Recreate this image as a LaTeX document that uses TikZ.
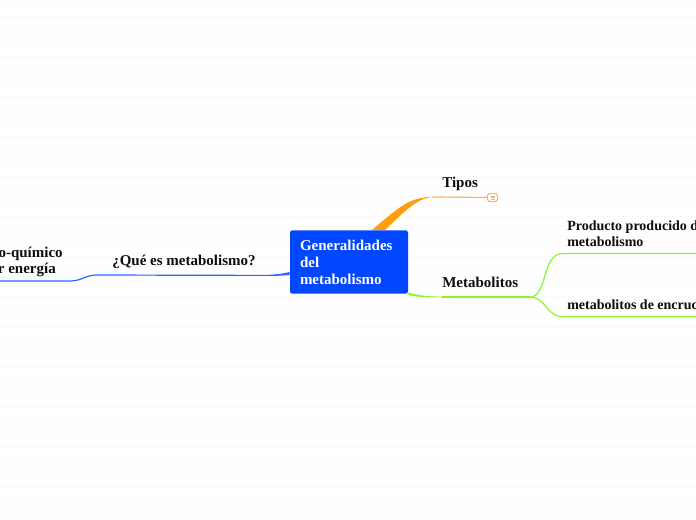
\documentclass[tikz,border=0pt]{standalone}
\usepackage{fontspec}
\setmainfont{Liberation Serif}
\usetikzlibrary{calc}
\definecolor{rootblue}{HTML}{0047FF}
\definecolor{linkblue}{HTML}{2A66FF}
\definecolor{linkorange}{HTML}{FFB45A}
\definecolor{thickorange}{HTML}{FF9D0A}
\definecolor{linkgreen}{HTML}{8FF52A}
\definecolor{stripe}{HTML}{FAFAFA}
\tikzset{
  x=0.75pt,y=-0.75pt,
  topic/.style={font=\bfseries\fontsize{11.25pt}{12.5pt}\selectfont,text=black!95,inner sep=0pt,align=left},
  subtopic/.style={topic,font=\bfseries\fontsize{10.5pt}{12.2pt}\selectfont},
  rootnode/.style={fill=rootblue,rounded corners=1.8pt,inner sep=0pt,minimum width=88.5pt,minimum height=47.6pt,
    font=\bfseries\fontsize{11.25pt}{12.75pt}\selectfont,text=white,align=left},
  thin link/.style={line width=0.9pt},
  icon/.style={draw=linkorange,fill=white,rounded corners=1.4pt,line width=0.7pt,minimum width=7.5pt,minimum height=6pt,inner sep=0pt}
}
\begin{document}
\begin{tikzpicture}
\useasboundingbox (0,0) rectangle (696,520);
\clip (0,0) rectangle (696,520);
\fill[white] (0,0) rectangle (696,520);
\foreach \y in {7,17,...,517} \draw[stripe,line width=0.75pt] (0,\y) -- (696,\y);

% root
\node[rootnode] (root) at (349,262) {\begin{minipage}{73.5pt}Generalidades\\del\\metabolismo\end{minipage}};

% topics
\node[topic,anchor=base west] (tipos) at (442,188) {Tipos};
\node[topic,anchor=base west] (metab) at (442,287) {Metabolitos};
\node[topic,anchor=base west] (que) at (112,266) {¿Qué es metabolismo?};
\node[topic,anchor=base east,align=right] (def) at (63,274) {o-químico\\r energía\hspace*{5.2pt}};
\node[subtopic,anchor=base west] (prod) at (567,247) {Producto producido d\\metabolismo};
\node[subtopic,anchor=base west] (cruc) at (567,310) {metabolitos de encruc};
\node[icon] (ico) at (492.5,197.5) {};
\foreach \yy in {196,197.5,199} \draw[linkorange,line width=0.4pt] (490.5,\yy) -- (494.5,\yy);

% junctions and free ends
\coordinate (otop) at (432,197);
\coordinate (bmid) at (97,275);
\coordinate (bend) at (0,281);
\coordinate (gmid) at (530,297);
\coordinate (pend) at (696,253.5);
\coordinate (cend) at (696,316.7);

% orange
\fill[thickorange] ($(root.north)+(23,0)$) .. controls (396,210) and (408,197) .. (otop)
  .. controls (416,198.5) and (402,214) .. ($(root.north)+(36,0)$) -- cycle;
\draw[linkorange,thin link] (otop) -- (ico.west);

% blue
\fill[linkblue] ($(root.west)+(0,10)$) .. controls (280,274.5) and (270,275) .. (255,275)
  -- (255,275.8) .. controls (270,276) and (280,276) .. ($(root.west)+(0,13)$) -- cycle;
\draw[linkblue,thin link] (255,275.4) -- (bmid) .. controls (85,275) and (82,281) .. (70,281) -- (bend);

% green
\fill[linkgreen] (root.south east) ++(0,-1.5) .. controls (420,296) and (430,296.6) .. (442,296.6)
  -- (442,297.4) .. controls (430,297.6) and (420,297.5) .. ($(root.south east)+(0,1)$) -- cycle;
\draw[linkgreen,thin link] (442,297) -- (gmid);
\draw[linkgreen,thin link] (gmid) .. controls (548,297) and (541,253.5) .. (563,253.5) -- (pend);
\draw[linkgreen,thin link] (gmid) .. controls (546,297) and (546,316.7) .. (563,316.7) -- (cend);
\end{tikzpicture}
\end{document}
